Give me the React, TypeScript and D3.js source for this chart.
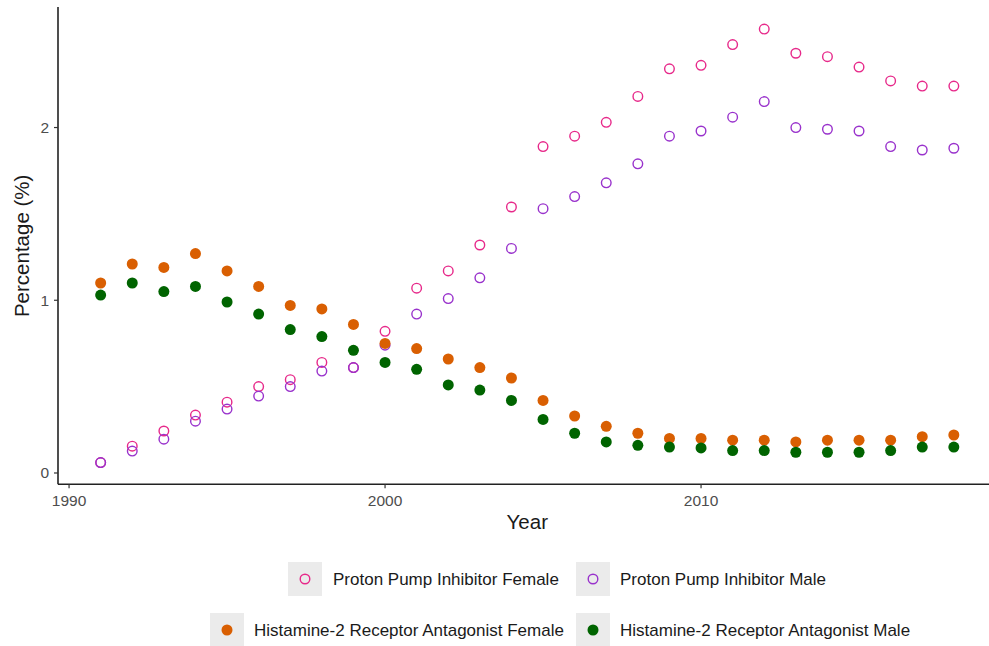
import React from "react";
import * as d3 from "d3";

const years = d3.range(1991, 2019);
const ppiFemale = [0.06, 0.155, 0.243, 0.335, 0.41, 0.50, 0.54, 0.64, 0.61, 0.82, 1.07, 1.17, 1.32, 1.54, 1.89, 1.95, 2.03, 2.18, 2.34, 2.36, 2.48, 2.57, 2.43, 2.41, 2.35, 2.27, 2.24, 2.24];
const ppiMale = [0.06, 0.127, 0.196, 0.30, 0.37, 0.445, 0.50, 0.59, 0.61, 0.74, 0.92, 1.01, 1.13, 1.30, 1.53, 1.60, 1.68, 1.79, 1.95, 1.98, 2.06, 2.15, 2.00, 1.99, 1.98, 1.89, 1.87, 1.88];
const h2Female = [1.10, 1.21, 1.19, 1.27, 1.17, 1.08, 0.97, 0.95, 0.86, 0.75, 0.72, 0.66, 0.61, 0.55, 0.42, 0.33, 0.27, 0.23, 0.20, 0.20, 0.19, 0.19, 0.18, 0.19, 0.19, 0.19, 0.21, 0.22];
const h2Male = [1.03, 1.10, 1.05, 1.08, 0.99, 0.92, 0.83, 0.79, 0.71, 0.64, 0.60, 0.51, 0.48, 0.42, 0.31, 0.23, 0.18, 0.16, 0.15, 0.145, 0.13, 0.13, 0.12, 0.12, 0.12, 0.13, 0.15, 0.15];
const xTicks = [1990, 2000, 2010];
const yTicks = [0, 1, 2];

const series = [
  { name: "Proton Pump Inhibitor Female", values: ppiFemale, color: "#E7298A", filled: false },
  { name: "Proton Pump Inhibitor Male", values: ppiMale, color: "#9932CC", filled: false },
  { name: "Histamine-2 Receptor Antagonist Female", values: h2Female, color: "#D95F02", filled: true },
  { name: "Histamine-2 Receptor Antagonist Male", values: h2Male, color: "#006400", filled: true },
];

const W = 989;
const H = 646;
const x = d3.scaleLinear().domain([1989.65, 2019.35]).range([58, 996.5]);
const y = d3.scaleLinear().domain([-0.0655, 2.6955]).range([484.3, 7.4]);

const font = "Liberation Sans, Arial, sans-serif";

function Marker({ cx, cy, color, filled }: { cx: number; cy: number; color: string; filled: boolean }) {
  return filled ? (
    <circle cx={cx} cy={cy} r={5.5} fill={color} />
  ) : (
    <circle cx={cx} cy={cy} r={4.8} fill="none" stroke={color} strokeWidth={1.4} />
  );
}

const legendItems = [
  { s: 0, boxX: 288, textX: 333, cy: 579 },
  { s: 1, boxX: 576, textX: 620, cy: 579 },
  { s: 2, boxX: 210, textX: 254, cy: 630 },
  { s: 3, boxX: 576, textX: 620, cy: 630 },
];

export default function App() {
  const left = 58;
  const bottom = 484.3;
  return (
    <svg width={W} height={H} style={{ position: "absolute", left: 0, top: 0, background: "#fff" }} fontFamily={font}>
      <rect width={W} height={H} fill="#fff" />
      {series.map((s) => (
        <g key={s.name}>
          {s.values.map((v, i) => (
            <Marker key={i} cx={x(years[i])} cy={y(v)} color={s.color} filled={s.filled} />
          ))}
        </g>
      ))}
      {/* axes */}
      <line x1={left} x2={W} y1={bottom} y2={bottom} stroke="#222" strokeWidth={1.6} />
      <line x1={left} x2={left} y1={7} y2={bottom} stroke="#222" strokeWidth={1.6} />
      {xTicks.map((t) => (
        <g key={t}>
          <line x1={x(t)} x2={x(t)} y1={bottom} y2={bottom + 4} stroke="#333" strokeWidth={1.2} />
          <text x={x(t)} y={bottom + 22} textAnchor="middle" fontSize={15.5} fill="#4d4d4d">
            {t}
          </text>
        </g>
      ))}
      {yTicks.map((t) => (
        <g key={t}>
          <line x1={left - 4} x2={left} y1={y(t)} y2={y(t)} stroke="#333" strokeWidth={1.2} />
          <text x={left - 9} y={y(t)} dy="0.35em" textAnchor="end" fontSize={15.5} fill="#4d4d4d">
            {t}
          </text>
        </g>
      ))}
      <text x={(left + 996.5) / 2} y={529} textAnchor="middle" fontSize={20.5} fill="#1a1a1a">
        Year
      </text>
      <text transform={`translate(29, ${(7.4 + bottom) / 2}) rotate(-90)`} textAnchor="middle" fontSize={20.5} fill="#1a1a1a">
        Percentage (%)
      </text>
      {/* legend */}
      {legendItems.map((it) => {
        const s = series[it.s];
        return (
          <g key={s.name}>
            <rect x={it.boxX} y={it.cy - 17} width={34} height={34} fill="#ebebeb" />
            <Marker cx={it.boxX + 17} cy={it.cy} color={s.color} filled={s.filled} />
            <text x={it.textX} y={it.cy} dy="0.35em" fontSize={17} fill="#1a1a1a">
              {s.name}
            </text>
          </g>
        );
      })}
    </svg>
  );
}
